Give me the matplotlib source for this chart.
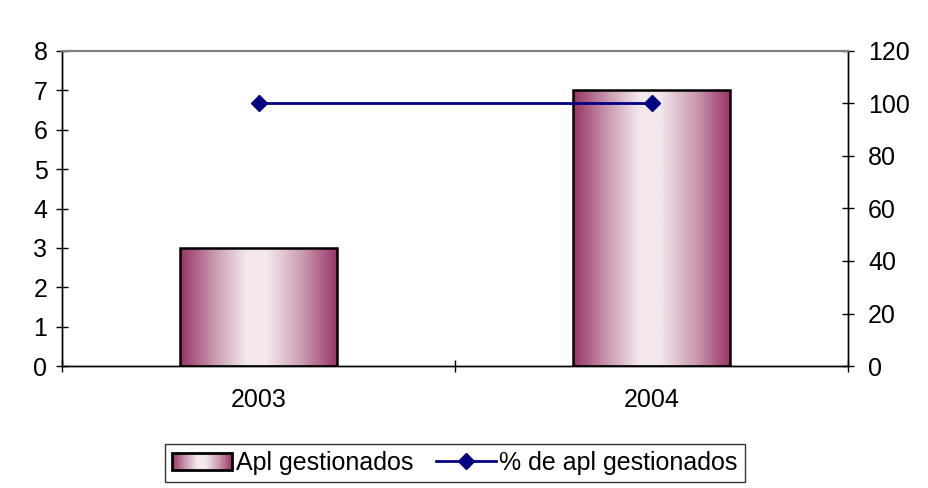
import numpy as np
import matplotlib
matplotlib.use("Agg")
import matplotlib.pyplot as plt
from matplotlib.colors import LinearSegmentedColormap
from matplotlib.legend_handler import HandlerBase
from matplotlib.patches import Rectangle
from matplotlib.lines import Line2D

categories = ["2003", "2004"]
apl_gestionados = [3, 7]
pct_gestionados = [100, 100]

plt.rcParams['font.family'] = ['Liberation Sans', 'DejaVu Sans']

dark = "#993366"
light = "#F4E8EF"
cmap = LinearSegmentedColormap.from_list("grad", [(0.0, dark), (0.22, "#C99AB0"), (0.42, light), (0.55, light), (0.78, "#C99AB0"), (1.0, dark)])

FS = 18

fig = plt.figure(figsize=(9.29, 4.88), dpi=100)
ax = fig.add_axes([62/929, 1-366/488, (848-62)/929, (366-51)/488])
ax2 = ax.twinx()

x = np.arange(len(categories))
width = 0.4
bars = ax.bar(x, apl_gestionados, width=width, facecolor="none", edgecolor="black", linewidth=1.8, zorder=3)
grad = np.linspace(0, 1, 256).reshape(1, -1)
for b in bars:
    x0, y0 = b.get_x(), b.get_y()
    w, h = b.get_width(), b.get_height()
    im = ax.imshow(grad, cmap=cmap, aspect="auto", extent=[x0, x0 + w, y0, y0 + h], zorder=2, interpolation="bilinear")
    im.set_clip_path(b)

ax.set_xlim(-0.5, len(categories) - 0.5)
ax.set_ylim(0, 8)
ax.set_yticks(range(0, 9))
ax2.set_ylim(0, 120)
ax2.set_yticks(range(0, 121, 20))

ax2.plot(x, pct_gestionados, color="#000080", linewidth=2, marker="D", markersize=8, zorder=5)

ax.set_xticks(x)
ax.set_xticklabels(categories)
ax.tick_params(axis="x", which="major", length=0, pad=16, labelsize=FS)
ax.set_xticks(np.arange(-0.5, len(categories), 1.0), minor=True)
ax.tick_params(axis="x", which="minor", direction="inout", length=9, width=1)
ax.tick_params(axis="y", direction="inout", length=9, width=1, labelsize=FS, pad=6)
ax2.tick_params(axis="y", direction="inout", length=9, width=1, labelsize=FS, pad=10)

for a in (ax, ax2):
    a.spines["top"].set_color("#808080")
    a.spines["top"].set_linewidth(1.5)
    for s in ("left", "right", "bottom"):
        a.spines[s].set_color("black")
        a.spines[s].set_linewidth(1)
ax.set_zorder(ax2.get_zorder() - 1)
ax2.patch.set_visible(False)


class GradientHandler(HandlerBase):
    def create_artists(self, legend, orig_handle, xdescent, ydescent, width, height, fontsize, trans):
        arts = []
        n = 40
        for i in range(n):
            c = cmap((i + 0.5) / n)
            r = Rectangle((-xdescent + width * i / n, -ydescent), width / n + 0.3, height,
                          facecolor=c, edgecolor="none", transform=trans)
            arts.append(r)
        outline = Rectangle((-xdescent, -ydescent), width, height, facecolor="none",
                            edgecolor="black", linewidth=2, transform=trans)
        arts.append(outline)
        return arts


bar_handle = Rectangle((0, 0), 1, 1)
line_handle = Line2D([], [], color="#000080", linewidth=2, marker="D", markersize=8)
leg = fig.legend([bar_handle, line_handle], ["Apl gestionados", "% de apl gestionados"],
                 handler_map={Rectangle: GradientHandler()},
                 loc="center", bbox_to_anchor=(455/929, 1-463/488), ncol=2, frameon=True,
                 fancybox=False, edgecolor="black", fontsize=FS, handlelength=2.4,
                 handletextpad=0.15, columnspacing=0.9, borderpad=0.28, borderaxespad=0)
leg.get_frame().set_linewidth(1)

fig.savefig("out.png", dpi=100)
